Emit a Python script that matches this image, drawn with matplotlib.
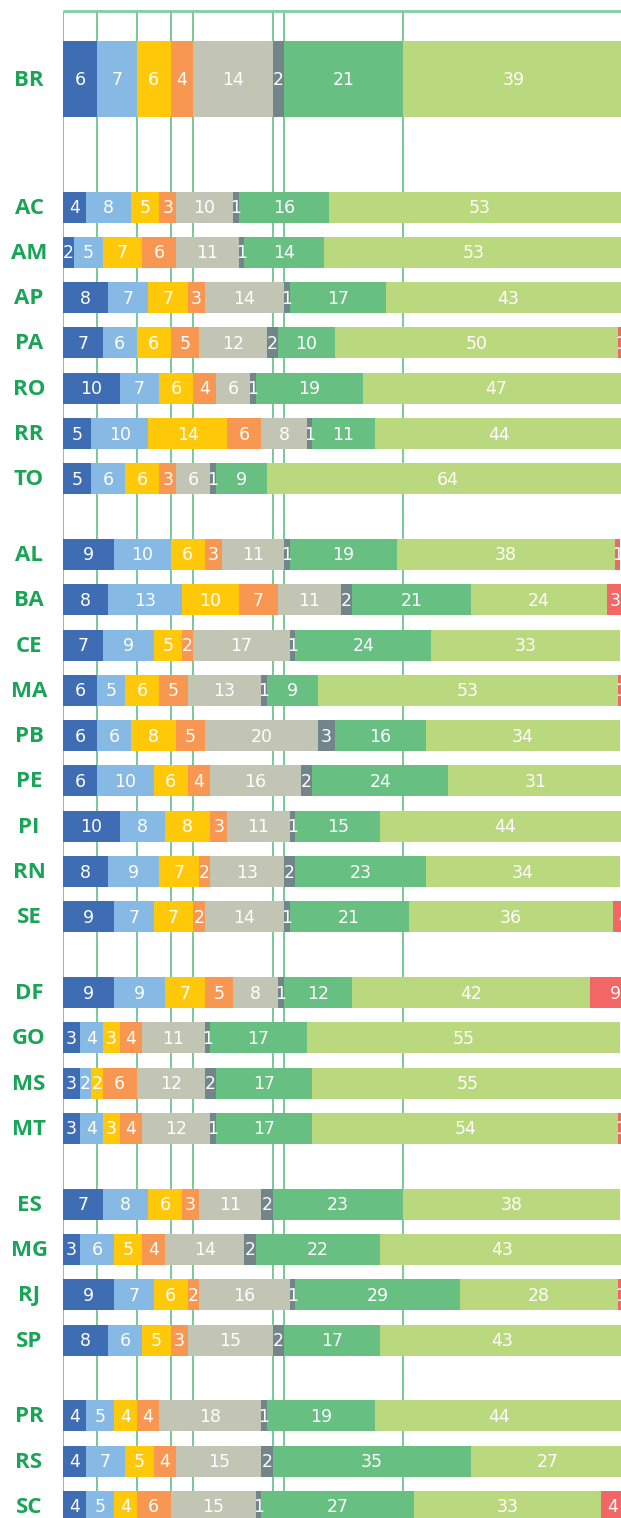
import numpy as np
import matplotlib.pyplot as plt

plt.rcParams['font.family'] = ['DejaVu Sans']

# rows (BR first, then regions)
estados = ['BR',
           'AC', 'AM', 'AP', 'PA', 'RO', 'RR', 'TO',
           'AL', 'BA', 'CE', 'MA', 'PB', 'PE', 'PI', 'RN', 'SE',
           'DF', 'GO', 'MS', 'MT',
           'ES', 'MG', 'RJ', 'SP',
           'PR', 'RS', 'SC']
regioes = [1, 7, 9, 4, 4, 3]

f1 = [6, 4, 2, 8, 7, 10, 5, 5, 9, 8, 7, 6, 6, 6, 10, 8, 9, 9, 3, 3, 3, 7, 3, 9, 8, 4, 4, 4]
f2 = [7, 8, 5, 7, 6, 7, 10, 6, 10, 13, 9, 5, 6, 10, 8, 9, 7, 9, 4, 2, 4, 8, 6, 7, 6, 5, 7, 5]
f3 = [6, 5, 7, 7, 6, 6, 14, 6, 6, 10, 5, 6, 8, 6, 8, 7, 7, 7, 3, 2, 3, 6, 5, 6, 5, 4, 5, 4]
f4 = [4, 3, 6, 3, 5, 4, 6, 3, 3, 7, 2, 5, 5, 4, 3, 2, 2, 5, 4, 6, 4, 3, 4, 2, 3, 4, 4, 6]
f5 = [14, 10, 11, 14, 12, 6, 8, 6, 11, 11, 17, 13, 20, 16, 11, 13, 14, 8, 11, 12, 12, 11, 14, 16, 15, 18, 15, 15]
f6 = [2, 1, 1, 1, 2, 1, 1, 1, 1, 2, 1, 1, 3, 2, 1, 2, 1, 1, 1, 2, 1, 2, 2, 1, 2, 1, 2, 1]
f7 = [21, 16, 14, 17, 10, 19, 11, 9, 19, 21, 24, 9, 16, 24, 15, 23, 21, 12, 17, 17, 17, 23, 22, 29, 17, 19, 35, 27]
f8 = [39, 53, 53, 43, 50, 47, 44, 64, 38.4, 24, 33.4, 53, 34.4, 31, 44, 34.4, 36, 42, 55.4, 55, 54, 38.4, 43, 28, 43, 44, 27, 33]
f9 = [1, 0, 0, 0, 1, 0, 0, 1, 1, 3, 0, 1, 0, 0, 0, 0, 4, 9, 0, 0, 1, 0, 0, 1, 0, 0, 0, 4]

cores = ['#3F6DB3', '#86B9E3', '#FFC90A', '#F79752', '#C2C5B4',
         '#72858A', '#67BF82', '#BAD87E', '#F26666']
series = [f1, f2, f3, f4, f5, f6, f7, f8, f9]

# vertical positions (pixel-like units, top = 0)
y = [79.0]
pos = 207.0
for g in regioes[1:]:
    for k in range(g):
        y.append(pos)
        pos += 45.3
    pos += 75.7 - 45.3
y = np.array(y)
alturas = np.array([76] + [31] * (len(estados) - 1))

fig = plt.figure(figsize=(6.21, 15.18), dpi=100)
ax = fig.add_axes([63 / 621, 0, 558 / 621, 1])
ax.set_xlim(0, 98.5)
ax.set_ylim(1518, 0)
ax.axis('off')

# guide lines at BR boundaries
limites = np.concatenate([[0], np.cumsum([s[0] for s in series[:7]])])
ax.vlines(limites, 11, 1518, color='#55BB7C', lw=1.1, zorder=0)
ax.hlines(11, 0, 98.5, color='#7FD0A2', lw=2, zorder=0)

esq = np.zeros(len(estados))
for s, c in zip(series, cores):
    v = np.array(s, dtype=float)
    ax.barh(y, v, left=esq, height=alturas, color=c, zorder=2)
    for i in range(len(estados)):
        if v[i] > 0:
            ax.text(esq[i] + v[i] / 2, y[i] + 1, f"{v[i]:.0f}", ha='center', va='center',
                    color='white', fontsize=12.5, zorder=3)
    esq += v

for i, e in enumerate(estados):
    ax.text(-6.0, y[i] + 1, e, ha='center', va='center', color='#19A457',
            fontsize=16, fontweight='bold', family=['Open Sans', 'DejaVu Sans'],
            clip_on=False)

plt.savefig('out.png', dpi=100)
